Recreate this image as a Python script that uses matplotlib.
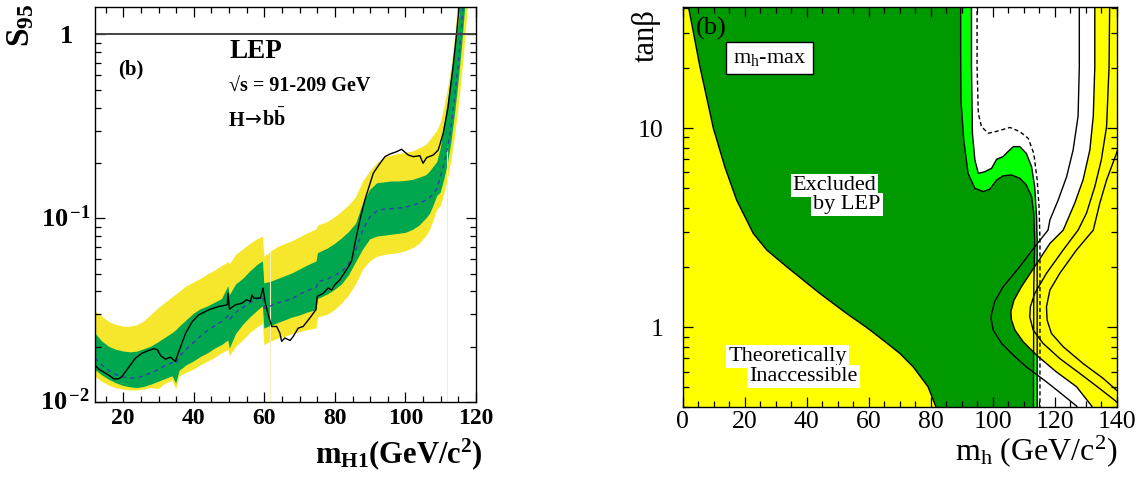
import numpy as np
import matplotlib
matplotlib.use("Agg")
import matplotlib.pyplot as plt
from matplotlib.ticker import MultipleLocator, LogLocator, NullFormatter
from matplotlib.transforms import blended_transform_factory

plt.rcParams['font.family'] = ['Liberation Serif', 'DejaVu Serif']
plt.rcParams['mathtext.fontset'] = 'custom'
plt.rcParams['mathtext.rm'] = 'Liberation Serif'
plt.rcParams['mathtext.it'] = 'Liberation Serif:italic'
plt.rcParams['mathtext.bf'] = 'Liberation Serif:bold'

# ---------------- (left) S95 limit vs m_H1, values are log10(S95) ----------------
mass = [12, 14, 16, 18, 20, 22, 24, 26, 28, 30, 32, 34, 35, 36, 38, 40, 42, 44, 46, 48,
        49.8, 50.2, 52, 54, 56, 58, 59.6, 60.0, 62, 64, 66, 68, 70, 72, 74.8, 75.2, 78, 80,
        82, 84, 86, 88, 90, 92, 94, 96, 98, 100, 102, 104, 106, 107, 108, 109, 110, 111,
        112, 113, 114, 115, 116, 117, 118]
log_plus2 = [-1.505, -1.535, -1.565, -1.58, -1.59, -1.59, -1.582, -1.56, -1.525, -1.49,
             -1.46, -1.43, -1.415, -1.40, -1.37, -1.35, -1.33, -1.305, -1.285, -1.26,
             -1.24, -1.25, -1.20, -1.17, -1.14, -1.115, -1.10, -1.21, -1.18, -1.155, -1.14,
             -1.125, -1.105, -1.085, -1.06, -1.04, -1.02, -0.995, -0.965, -0.93, -0.885,
             -0.80, -0.745, -0.70, -0.67, -0.66, -0.65, -0.645, -0.638, -0.62, -0.60,
             -0.575, -0.55, -0.525, -0.48, -0.40, -0.30, -0.18, -0.02, 0.18, 0.42, 0.70, 1.0]
log_plus1 = [-1.625, -1.67, -1.70, -1.716, -1.725, -1.73, -1.726, -1.712, -1.698, -1.675,
             -1.65, -1.625, -1.61, -1.59, -1.555, -1.52, -1.495, -1.48, -1.46, -1.44,
             -1.37, -1.42, -1.36, -1.33, -1.29, -1.255, -1.235, -1.355, -1.345, -1.33,
             -1.315, -1.30, -1.28, -1.26, -1.235, -1.19, -1.165, -1.14, -1.11, -1.075,
             -1.03, -0.92, -0.845, -0.81, -0.805, -0.80, -0.80, -0.797, -0.792, -0.78,
             -0.765, -0.745, -0.72, -0.695, -0.62, -0.50, -0.37, -0.22, -0.08, 0.05, 0.24,
             0.50, 0.80]
log_median = [-1.761, -1.80, -1.83, -1.852, -1.864, -1.87, -1.868, -1.856, -1.84, -1.824,
              -1.80, -1.785, -1.79, -1.75, -1.71, -1.675, -1.64, -1.61, -1.585, -1.56,
              -1.53, -1.55, -1.51, -1.485, -1.46, -1.44, -1.425, -1.49, -1.475, -1.46,
              -1.45, -1.435, -1.415, -1.395, -1.375, -1.345, -1.33, -1.31, -1.29, -1.245,
              -1.17, -1.06, -0.99, -0.96, -0.95, -0.948, -0.945, -0.94, -0.93, -0.918,
              -0.90, -0.885, -0.865, -0.835, -0.77, -0.70, -0.61, -0.49, -0.33, -0.16, 0.06,
              0.32, 0.60]
log_minus1 = [-1.824, -1.855, -1.879, -1.898, -1.912, -1.92, -1.924, -1.918, -1.905, -1.89,
              -1.875, -1.86, -1.90, -1.83, -1.80, -1.78, -1.755, -1.735, -1.71, -1.69,
              -1.665, -1.71, -1.63, -1.58, -1.54, -1.505, -1.48, -1.60, -1.585, -1.57,
              -1.555, -1.54, -1.53, -1.515, -1.50, -1.44, -1.415, -1.39, -1.36, -1.31,
              -1.24, -1.17, -1.115, -1.10, -1.095, -1.09, -1.085, -1.08, -1.065, -1.04,
              -1.00, -0.975, -0.93, -0.88, -0.86, -0.79, -0.705, -0.59, -0.44, -0.27, -0.07,
              0.16, 0.42]
log_minus2 = [-1.861, -1.89, -1.911, -1.925, -1.933, -1.937, -1.937, -1.932, -1.924, -1.93,
              -1.90, -1.885, -1.93, -1.86, -1.84, -1.824, -1.80, -1.78, -1.76, -1.735,
              -1.716, -1.75, -1.70, -1.665, -1.625, -1.595, -1.575, -1.69, -1.67, -1.655,
              -1.645, -1.63, -1.62, -1.61, -1.60, -1.54, -1.525, -1.50, -1.465, -1.42,
              -1.36, -1.28, -1.235, -1.21, -1.20, -1.195, -1.19, -1.18, -1.165, -1.14,
              -1.095, -1.063, -1.01, -0.955, -0.935, -0.87, -0.79, -0.69, -0.56, -0.41,
              -0.23, -0.02, 0.22]

obs_mass = [12, 13, 14.1, 16, 17.4, 18.8, 19.7, 21.6, 23.5, 25.4, 27.3, 28.7, 29.7, 30.6,
            32, 33.4, 34.8, 35.6, 37.7, 39.6, 41.4, 44.3, 47.1, 49.5, 49.7, 50.1, 51.8,
            53.7, 55, 56.1, 56.5, 57, 58.9, 59.6, 60.3, 61.1, 62.1, 63.5, 64.4, 64.9, 65.8,
            67.3, 68.2, 69.6, 71, 72.9, 74.6, 75, 76.7, 78.1, 79.1, 80, 81.4, 83.3, 84.7,
            85.7, 87.1, 88.5, 90.9, 92.8, 94.2, 95.6, 97.5, 98.9, 100.8, 102.2, 104.1, 105,
            106, 107.9, 109.3, 110.7, 112.1, 113.5, 114.5, 115.2, 115.6]
log_observed = [-1.80, -1.82, -1.833, -1.855, -1.875, -1.873, -1.86, -1.81, -1.761, -1.734,
                -1.719, -1.71, -1.716, -1.748, -1.767, -1.756, -1.779, -1.734, -1.625,
                -1.562, -1.526, -1.498, -1.48, -1.471, -1.408, -1.495, -1.471, -1.462,
                -1.444, -1.453, -1.417, -1.435, -1.435, -1.38, -1.462, -1.525, -1.589,
                -1.589, -1.625, -1.67, -1.652, -1.665, -1.643, -1.598, -1.589, -1.543,
                -1.498, -1.426, -1.408, -1.38, -1.39, -1.362, -1.335, -1.28, -1.235,
                -1.136, -1.009, -0.90, -0.755, -0.701, -0.665, -0.651, -0.638, -0.625,
                -0.656, -0.665, -0.66, -0.701, -0.67, -0.656, -0.629, -0.538, -0.393,
                -0.176, 0.005, 0.147, 0.25]

gap_mass = [61.5, 111.8]
gap_top = [0.066, 0.245]

# ---------------- (right) m_h-max scan, tan(beta) vs m_h ----------------
theory_lo_mh = [1.7, 1.9, 3.5, 5.55, 7.9, 9.9, 13.6, 17.4, 22.75, 27.1, 33.5, 44.3, 52.9,
                59.35, 64.7, 70.1, 74.4, 79.2, 81.7, 82.0]
theory_lo_tb = [42, 40.5, 30, 20.4, 13.9, 10, 6.4, 4.36, 2.97, 2.45, 2.02, 1.48, 1.175,
                1.0, 0.863, 0.74, 0.634, 0.503, 0.4, 0.39]

excl95_mh = [89.7, 89.7, 89.8, 90.7, 92.1, 94.3, 97.0, 99.1, 101.3, 103.4, 106.1, 108.8,
             110.9, 112.6, 113.3, 113.6, 113.3, 113.2]
excl95_tb = [42, 25, 13.9, 8.73, 5.94, 4.99, 4.81, 4.94, 5.50, 5.77, 5.83, 5.61, 5.19,
             4.54, 3.74, 2.75, 1.6, 0.39]

excl99_mh = [93.2, 93.2, 93.5, 94.3, 95.4, 97.5, 99.7, 101.3, 103.4, 105.0, 106.7, 108.8,
             110.9, 112.6, 113.6, 114.2, 114.4, 114.4, 114.4]
excl99_tb = [42, 20.4, 9.44, 6.93, 5.94, 6.05, 6.30, 6.98, 7.21, 7.64, 8.09, 8.09, 7.48,
             6.41, 5.09, 3.60, 2.75, 1.6, 0.39]

expected_mh = [95.0, 95.0, 95.4, 96.4, 98.6, 101.8, 105.6, 108.8, 111.5, 113.3, 114.4,
               115.0, 115.3, 115.3]
expected_tb = [42, 20.4, 11.9, 10.2, 9.44, 9.70, 10.1, 9.62, 8.91, 7.48, 5.50, 4.04, 2.75,
               0.39]

# upper theoretical bound on m_h for the four top-mass choices
mt1_mh = [128.0, 128.0, 127.6, 126.0, 123.9, 121.2, 118.5, 117.9, 113.6, 108.8, 103.4,
          100.7, 99.7, 99.5, 100.2, 102.9, 106.7, 110.9, 117.4, 122.8, 127.1, 127.5]
mt1_tb = [42, 20.4, 11.5, 7.78, 5.71, 4.37, 3.46, 3.08, 2.54, 2.02, 1.60, 1.35, 1.175,
          1.11, 0.971, 0.832, 0.726, 0.634, 0.533, 0.457, 0.403, 0.39]
mt2_mh = [133.0, 133.0, 132.5, 131.4, 129.2, 126.5, 122.8, 118.5, 113.6, 109.3, 106.9,
          105.9, 106.1, 107.2, 109.9, 114.2, 120.6, 127.1, 132.0, 132.5]
mt2_tb = [42, 20.4, 11.5, 7.78, 5.50, 4.20, 3.08, 2.64, 2.02, 1.60, 1.37, 1.20, 1.09,
          0.971, 0.847, 0.726, 0.598, 0.504, 0.403, 0.39]
mt3_mh = [137.8, 137.6, 136.8, 135.1, 133.0, 130.3, 127.6, 122.8, 117.4, 113.6, 112.2,
          112.0, 113.1, 116.3, 121.7, 128.2, 134.6, 139.4, 141.0]
mt3_tb = [42, 20.4, 10.2, 6.93, 5.09, 3.74, 3.08, 2.45, 1.87, 1.48, 1.27, 1.13, 0.971,
          0.832, 0.698, 0.587, 0.493, 0.431, 0.41]
mt4_mh = [142.0, 140.0, 136.8, 134.6, 132.5, 127.1, 121.7, 118.5, 117.4, 117.6, 119.0,
          122.8, 129.2, 135.7, 140.0, 142.0]
mt4_tb = [9.5, 7.48, 5.50, 4.20, 3.08, 2.45, 1.87, 1.54, 1.27, 1.09, 0.933, 0.80, 0.659,
          0.555, 0.484, 0.46]

YEL_L, GRN_L = '#f6e62c', '#00a74f'
YEL_R, GRN_R, LGRN_R = '#ffff00', '#009900', '#00ff00'

fig = plt.figure(figsize=(11.47, 4.78), dpi=100)
axL = fig.add_axes([95 / 1147, 1 - 402 / 478, 381 / 1147, 395 / 478])
axR = fig.add_axes([682.7 / 1147, 1 - 406.7 / 478, 433.8 / 1147, 399.4 / 478])

# ---- left panel ----
m = np.array(mass)
axL.fill_between(m, 10 ** np.array(log_minus2), 10 ** np.array(log_plus2), color=YEL_L, lw=0)
axL.fill_between(m, 10 ** np.array(log_minus1), 10 ** np.array(log_plus1), color=GRN_L, lw=0)
axL.vlines(gap_mass, 0.01, gap_top, color='#efefc0', lw=0.8)
axL.plot(m, 10 ** np.array(log_median), color='#3a3ab0', lw=1.0, ls=(0, (3, 3)))
axL.plot(obs_mass, 10 ** np.array(log_observed), color='black', lw=1.0)
axL.axhline(1.0, color='#444444', lw=1.4)

axL.set_yscale('log')
axL.set_xlim(12, 120)
axL.set_ylim(0.01, 1.41)
axL.set_xticks([20, 40, 60, 80, 100, 120])
axL.set_xticklabels(['20', '40', '60', '80', '100', '120'], fontsize=17, fontweight='bold')
axL.xaxis.set_minor_locator(MultipleLocator(5))
axL.set_yticks([0.01, 0.1, 1])
axL.set_yticklabels([])
axL.yaxis.set_minor_locator(LogLocator(base=10, subs=np.arange(2, 10)))
axL.yaxis.set_minor_formatter(NullFormatter())
axL.tick_params(which='both', direction='in', top=True, right=True, width=0.9)
axL.tick_params(which='major', length=7, pad=4)
axL.tick_params(which='minor', length=4)
for s in axL.spines.values():
    s.set_linewidth(1.0)

ytr = blended_transform_factory(axL.transAxes, axL.transData)
for val, lab, dx in [(1, r'$\mathbf{1}$', -16),
                     (0.1, r'$\mathbf{10}^{\,\mathbf{-1}}$', -3.5),
                     (0.01, r'$\mathbf{10}^{\,\mathbf{-2}}$', -3.5)]:
    axL.annotate(lab, xy=(0, val), xycoords=ytr, xytext=(dx, -6), textcoords='offset points',
                 ha='right', va='baseline', fontsize=19)

fig.text(483 / 1147, 1 - 463 / 478, r'$\mathbf{m_{H1}(GeV/c^{2})}$', fontsize=22,
         ha='right', va='baseline')
fig.text(21 / 1147, 1 - 25 / 478, r'$\mathbf{S_{95}}$', fontsize=24, rotation=90,
         ha='center', va='center')

axL.text(0.352, 0.871, 'LEP', transform=axL.transAxes, fontsize=19.5, fontweight='bold',
         va='baseline')
axL.text(0.06, 0.828, '(b)', transform=axL.transAxes, fontsize=15, fontweight='bold',
         va='baseline')
axL.text(0.352, 0.785, '\u221as = 91-209 GeV', transform=axL.transAxes, fontsize=14.5,
         fontweight='bold', va='baseline')
# decay label: H, a wide arrow, then b b-bar
dec = (0.352, 0.699)
axL.annotate('H', xy=dec, xycoords='axes fraction', fontsize=14.5, fontweight='bold',
             va='baseline')
axL.annotate('\u2192', xy=dec, xycoords='axes fraction', xytext=(11.0, 0.5),
             textcoords='offset points', fontsize=14.5, family='DejaVu Sans', va='baseline')
axL.annotate('b$\\mathbf{\\bar{b}}$', xy=dec, xycoords='axes fraction', xytext=(23.5, 0),
             textcoords='offset points', fontsize=14.5, fontweight='bold', va='baseline')

# ---- right panel ----
axR.fill(np.r_[-5, theory_lo_mh, -5], np.r_[theory_lo_tb[0], theory_lo_tb, theory_lo_tb[-1]],
         color=YEL_R, lw=0)
axR.fill(np.r_[theory_lo_mh, excl95_mh[::-1]], np.r_[theory_lo_tb, excl95_tb[::-1]],
         color=GRN_R, lw=0)
axR.fill(np.r_[excl95_mh, excl99_mh[::-1]], np.r_[excl95_tb, excl99_tb[::-1]],
         color=LGRN_R, lw=0)
axR.plot(theory_lo_mh, theory_lo_tb, color='black', lw=1.0)
axR.plot(excl95_mh, excl95_tb, color='black', lw=1.0)
axR.plot(excl99_mh, excl99_tb, color='black', lw=1.0)
axR.plot(expected_mh, expected_tb, color='black', lw=1.0, ls=(0, (3, 2)))
axR.fill(np.r_[mt2_mh, 150, 150], np.r_[mt2_tb, mt2_tb[-1], mt2_tb[0]], color=YEL_R, lw=0)
for xs, ys in [(mt1_mh, mt1_tb), (mt2_mh, mt2_tb), (mt3_mh, mt3_tb), (mt4_mh, mt4_tb)]:
    axR.plot(xs, ys, color='black', lw=1.0)

axR.set_yscale('log')
axR.set_xlim(0, 140)
axR.set_ylim(0.4, 40.5)
axR.set_xticks([0, 20, 40, 60, 80, 100, 120, 140])
axR.set_xticklabels(['0', '20', '40', '60', '80', '100', '120', '140'], fontsize=18.5)
axR.xaxis.set_minor_locator(MultipleLocator(5))
axR.set_yticks([1, 10])
axR.set_yticklabels(['1', '10'], fontsize=18.5)
axR.yaxis.set_minor_locator(LogLocator(base=10, subs=np.arange(2, 10)))
axR.yaxis.set_minor_formatter(NullFormatter())
axR.tick_params(which='both', direction='in', top=True, right=True, width=0.9)
axR.tick_params(which='major', length=7)
axR.tick_params(which='minor', length=4)
axR.tick_params(axis='x', which='major', pad=3)
axR.tick_params(axis='y', which='major', pad=14)
for s in axR.spines.values():
    s.set_linewidth(1.0)

fig.text(1117 / 1147, 1 - 460 / 478, r'$\mathrm{m_h\ (GeV/c^2)}$', fontsize=23,
         ha='right', va='baseline')
fig.text(646 / 1147, 1 - 36 / 478, 'tan\u03b2', fontsize=22, rotation=90,
         ha='center', va='center')

axR.text(0.031, 0.976, '(b)', transform=axR.transAxes, fontsize=19, va='top', ha='left')
axR.text(0.2, 0.873, r'$\mathrm{m_h}$-max', transform=axR.transAxes, fontsize=16,
         ha='center', va='center',
         bbox=dict(boxstyle='square,pad=0.3', fc='white', ec='black', lw=1.0))
white = dict(fc='white', ec='none', pad=1.5)
axR.text(35.5, 5.19, 'Excluded', fontsize=16, ha='left', va='center', bbox=white)
axR.text(42.1, 4.12, 'by LEP', fontsize=16, ha='left', va='center', bbox=white)
axR.text(14.7, 0.711, 'Theoretically', fontsize=16, ha='left', va='center', bbox=white)
axR.text(21.5, 0.565, 'Inaccessible', fontsize=16, ha='left', va='center', bbox=white)

fig.savefig('out.png', dpi=100)
